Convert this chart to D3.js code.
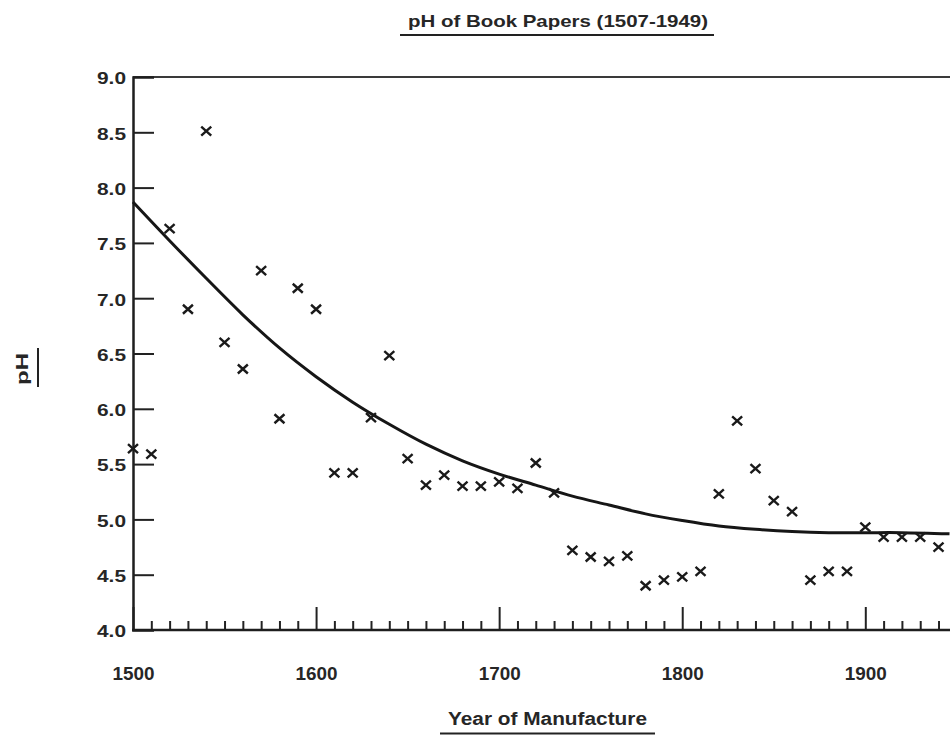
<!DOCTYPE html>
<html>
<head>
<meta charset="utf-8">
<script src="https://cdn.jsdelivr.net/npm/d3@7/dist/d3.min.js"></script>
<style>
	body { margin: 0; background: #fff; }
	svg { display: block; }
	text { font-family: "Liberation Sans", Arial, sans-serif; font-weight: bold; fill: #262626; }
</style>
</head>
<body>
<svg id="chart"></svg>
<script>
/* sampled book papers: decade of manufacture and measured pH */
var years = [1500, 1510, 1520, 1530, 1540, 1550, 1560, 1570, 1580, 1590,
	1600, 1610, 1620, 1630, 1640, 1650, 1660, 1670, 1680, 1690,
	1700, 1710, 1720, 1730, 1740, 1750, 1760, 1770, 1780, 1790,
	1800, 1810, 1820, 1830, 1840, 1850, 1860, 1870, 1880, 1890,
	1900, 1910, 1920, 1930, 1940];
var ph_values = [5.64, 5.59, 7.63, 6.90, 8.51, 6.60, 6.36, 7.25, 5.91, 7.09,
	6.90, 5.42, 5.42, 5.92, 6.48, 5.55, 5.31, 5.40, 5.30, 5.30,
	5.34, 5.28, 5.51, 5.24, 4.72, 4.66, 4.62, 4.67, 4.40, 4.45,
	4.48, 4.53, 5.23, 5.89, 5.46, 5.17, 5.07, 4.45, 4.53, 4.53,
	4.93, 4.84, 4.84, 4.84, 4.75];

/* fitted trend line */
var curve_years = [1500, 1520, 1540, 1560, 1580, 1600, 1620, 1640, 1660, 1680, 1700, 1720,
	1740, 1760, 1780, 1800, 1820, 1840, 1860, 1880, 1900, 1920, 1946];
var curve_ph = [7.87, 7.52, 7.18, 6.85, 6.55, 6.29, 6.06, 5.86, 5.68, 5.53, 5.41, 5.31,
	5.21, 5.13, 5.05, 4.99, 4.94, 4.91, 4.89, 4.88, 4.88, 4.88, 4.87];

var x_major_ticks = [1500, 1600, 1700, 1800, 1900];
var x_minor_ticks = d3.range(1510, 1950, 10).filter(function(d){ return d % 100 != 0; });
var y_ticks = [4.0, 4.5, 5.0, 5.5, 6.0, 6.5, 7.0, 7.5, 8.0, 8.5, 9.0];

var width = 950, height = 738;

var svg = d3.select('#chart')
	.attr('width', width)
	.attr('height', height);

var x = d3.scaleLinear().domain([1500, 1900]).range([133, 865.3]);
var y = d3.scaleLinear().domain([4, 9]).range([630, 77]);

// frame: top border runs off the right edge
svg.append('line')
	.attr('x1', x(1500)).attr('x2', width)
	.attr('y1', y(9)).attr('y2', y(9))
	.attr('stroke', '#3a3a3a')
	.attr('stroke-width', 2);

// minor x ticks
svg.append('g')
	.attr('transform', 'translate(0,' + y(4) + ')')
	.call(d3.axisBottom(x).tickValues(x_minor_ticks).tickSize(-9).tickFormat(''))
	.call(function(g){
		g.select('.domain').remove();
		g.selectAll('.tick line').attr('stroke', '#222').attr('stroke-width', 2);
	});

// major x ticks with labels
svg.append('g')
	.attr('transform', 'translate(0,' + y(4) + ')')
	.call(d3.axisBottom(x).tickValues(x_major_ticks).tickSize(-23).tickPadding(50).tickFormat(d3.format('d')))
	.call(function(g){
		g.select('.domain').remove();
		g.selectAll('.tick line').attr('stroke', '#222').attr('stroke-width', 2);
		g.selectAll('.tick text')
		.attr('dy', 0)
		.attr('font-size', 18)
		.attr('textLength', 42)
		.attr('lengthAdjust', 'spacingAndGlyphs')
		.attr('fill', '#262626');
	});

svg.append('line')
	.attr('x1', x(1500) - 1).attr('x2', width)
	.attr('y1', y(4)).attr('y2', y(4))
	.attr('stroke', '#1e1e1e')
	.attr('stroke-width', 2.5);

// y axis, ticks point into the plot
svg.append('g')
	.attr('transform', 'translate(' + x(1500) + ',0)')
	.call(d3.axisLeft(y).tickValues(y_ticks).tickSize(-21).tickPadding(7).tickFormat(d3.format('.1f')))
	.call(function(g){
		g.select('.domain').attr('stroke', '#1e1e1e').attr('stroke-width', 2.5);
		g.selectAll('.tick line')
		.attr('stroke', '#222')
		.attr('stroke-width', 2)
		.filter(function(d){ return d == 4 || d == 9; }).remove();
		g.selectAll('.tick text')
		.attr('dy', '0.4em')
		.attr('font-size', 17)
		.attr('textLength', 29)
		.attr('lengthAdjust', 'spacingAndGlyphs')
		.attr('fill', '#262626');
	});

// trend curve
var line = d3.line()
	.x(function(d, i){ return x(curve_years[i]); })
	.y(function(d){ return y(d); })
	.curve(d3.curveCatmullRom);

svg.append('path')
	.datum(curve_ph)
	.attr('d', line)
	.attr('fill', 'none')
	.attr('stroke', '#161616')
	.attr('stroke-width', 3);

// data points drawn as small crosses
svg.append('g')
	.selectAll('path')
	.data(ph_values)
	.enter().append('path')
	.attr('transform', function(d, i){ return 'translate(' + x(years[i]) + ',' + y(d) + ')'; })
	.attr('d', 'M-5,-4.5L5,4.5M5,-4.5L-5,4.5')
	.attr('stroke', '#1a1a1a')
	.attr('stroke-width', 2.4)
	.attr('fill', 'none');

// titles with underlines
svg.append('text')
	.attr('x', 408).attr('y', 27)
	.attr('font-size', 17)
	.attr('textLength', 300)
	.attr('lengthAdjust', 'spacingAndGlyphs')
	.text('pH of Book Papers (1507-1949)');
svg.append('line')
	.attr('x1', 400).attr('x2', 714).attr('y1', 35).attr('y2', 35)
	.attr('stroke', '#222').attr('stroke-width', 2);

svg.append('text')
	.attr('x', 448).attr('y', 725)
	.attr('font-size', 18)
	.attr('textLength', 199)
	.attr('lengthAdjust', 'spacingAndGlyphs')
	.text('Year of Manufacture');
svg.append('line')
	.attr('x1', 440).attr('x2', 655).attr('y1', 733.5).attr('y2', 733.5)
	.attr('stroke', '#222').attr('stroke-width', 2);

svg.append('text')
	.attr('transform', 'translate(28,385) rotate(-90)')
	.attr('font-size', 17)
	.attr('textLength', 32)
	.attr('lengthAdjust', 'spacingAndGlyphs')
	.text('pH');
svg.append('line')
	.attr('x1', 38).attr('x2', 38).attr('y1', 348).attr('y2', 387)
	.attr('stroke', '#222').attr('stroke-width', 2);
</script>
</body>
</html>
